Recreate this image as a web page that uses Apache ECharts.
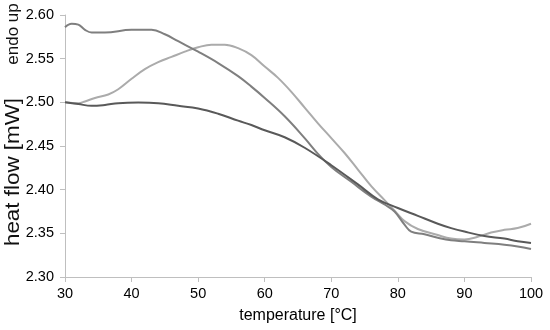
<!DOCTYPE html>
<html>
<head>
<meta charset="utf-8">
<script src="https://cdn.jsdelivr.net/npm/echarts@6/dist/echarts.min.js"></script>
<style>html,body{margin:0;padding:0;background:#fff;}#c{width:550px;height:330px;}</style>
</head>
<body>
<div id="c"></div>
<script>
// Temperature (x) and heat flow (y) for each curve
const darkX  = [30,32,34,36,38,41,44,47,50,53,56,58,60,63,66,70,74,77,80,83,86,88,90,93,96,98,100];
const darkY  = [2.500,2.498,2.496,2.497,2.499,2.4997,2.499,2.496,2.493,2.487,2.479,2.474,2.468,2.460,2.448,2.428,2.406,2.389,2.379,2.370,2.361,2.356,2.352,2.347,2.344,2.341,2.339];

const medX   = [30,31,32,33,34,36,40,43,45,47,50,53,56,58,60,63,66,68,70,73,76,78,79.5,81,82,84,86,88,90,93,96,98,100];
const medY   = [2.586,2.590,2.589,2.583,2.580,2.580,2.583,2.583,2.578,2.570,2.558,2.545,2.530,2.518,2.505,2.484,2.459,2.441,2.426,2.409,2.392,2.383,2.375,2.360,2.352,2.349,2.345,2.342,2.341,2.339,2.337,2.335,2.332];

const lightX = [30,32,33,34.5,36.5,38,40,42,44,46,48,50,52,54,56,58,60,62,64,66,68,70,72,74,76,78,79.5,81,83,86,88,90,92,94,96,98,100];
const lightY = [2.500,2.499,2.501,2.505,2.509,2.515,2.527,2.538,2.546,2.552,2.558,2.563,2.566,2.566,2.562,2.554,2.541,2.528,2.512,2.494,2.476,2.459,2.442,2.423,2.404,2.388,2.376,2.364,2.355,2.348,2.344,2.343,2.346,2.351,2.354,2.356,2.361];

const xTicks = [30,40,50,60,70,80,90,100];
const yTicks = ["2.30","2.35","2.40","2.45","2.50","2.55","2.60"];

const xTitle = "temperature [°C]";
const yTitle = "heat flow [mW]";
const yNote  = "endo up";

function pairs(xs, ys){ return xs.map((x,i)=>[x, ys[i]]); }

const chart = echarts.init(document.getElementById('c'), null, {renderer:'canvas'});
const font = 'Liberation Sans, Arial, sans-serif';
const axisCol = '#bfbfbf';

chart.setOption({
  animation: false,
  backgroundColor: '#ffffff',
  grid: {left: 65, right: 19, top: 15, bottom: 53, containLabel: false},
  xAxis: {
    type: 'value',
    min: xTicks[0], max: xTicks[xTicks.length-1], interval: 10,
    name: xTitle, nameLocation: 'middle', nameGap: 31,
    nameTextStyle: {fontFamily: font, fontSize: 16, color: '#000'},
    axisLine: {show: true, lineStyle: {color: axisCol, width: 1}},
    axisTick: {show: true, length: 5, lineStyle: {color: axisCol}},
    splitLine: {show: false},
    axisLabel: {fontFamily: font, fontSize: 14.5, color: '#000', margin: 9}
  },
  yAxis: {
    type: 'value',
    min: 2.30, max: 2.60, interval: 0.05,
    axisLine: {show: true, lineStyle: {color: axisCol, width: 1}},
    axisTick: {show: true, length: 5, lineStyle: {color: axisCol}},
    splitLine: {show: false},
    axisLabel: {fontFamily: font, fontSize: 14.5, color: '#000', margin: 11,
      formatter: function(v){ const s = v.toFixed(2); return yTicks.indexOf(s) >= 0 ? s : ''; }}
  },
  graphic: [
    {type: 'text', x: 13, y: 172, rotation: Math.PI/2, scaleX: 1.12,
     style: {text: yTitle, font: '20px ' + font, fill: '#111', textAlign: 'center', textVerticalAlign: 'middle'}},
    {type: 'text', x: 13, y: 34, rotation: Math.PI/2,
     style: {text: yNote, font: '17px ' + font, fill: '#111', textAlign: 'center', textVerticalAlign: 'middle'}}
  ],
  series: [
    {type: 'line', data: pairs(darkX, darkY), smooth: 0.4, showSymbol: false,
     lineStyle: {color: '#595959', width: 2}, z: 3},
    {type: 'line', data: pairs(medX, medY), smooth: 0.4, showSymbol: false,
     lineStyle: {color: '#7f7f7f', width: 2}, z: 2},
    {type: 'line', data: pairs(lightX, lightY), smooth: 0.4, showSymbol: false,
     lineStyle: {color: '#ababab', width: 2}, z: 1}
  ]
});
</script>
</body>
</html>
